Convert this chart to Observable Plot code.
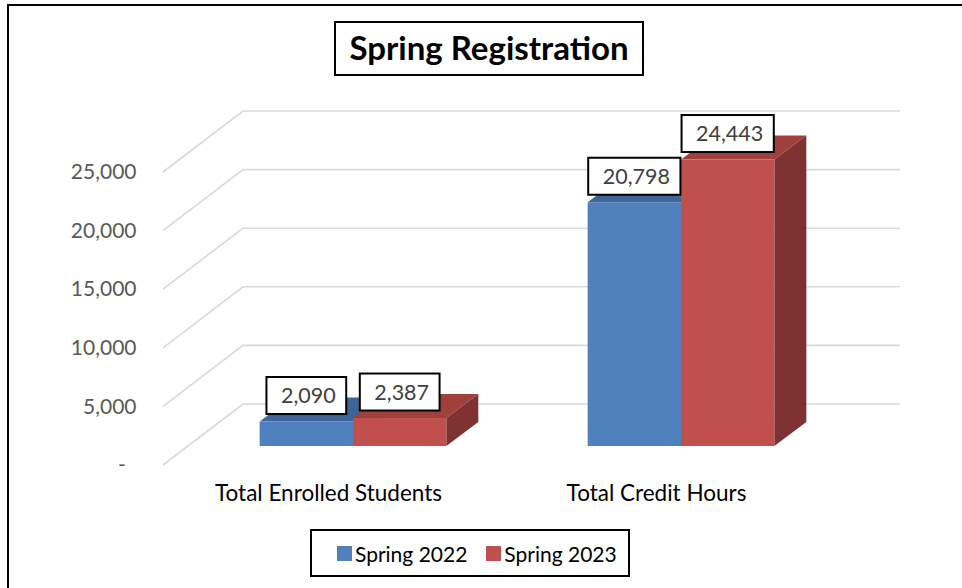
<!DOCTYPE html>
<html>
<head>
<meta charset="utf-8">
<script src="https://cdn.jsdelivr.net/npm/d3@7"></script>
<script src="https://cdn.jsdelivr.net/npm/@observablehq/plot@0.6"></script>
<style>
  html, body { margin: 0; padding: 0; background: #fff; overflow: hidden; }
  body { width: 962px; height: 588px; position: relative; font-family: Lato, "Open Sans", sans-serif; }
  #frame { position: absolute; left: 7px; top: 4px; width: 1100px; height: 800px; border: 2px solid #000; box-sizing: border-box; }
  #chart { position: absolute; left: 0; top: 0; }
  #title { position: absolute; left: 334px; top: 21px; width: 310px; height: 55px; box-sizing: border-box;
           border: 2px solid #000; background: #fff; font-weight: bold; font-size: 33px; color: #000;
           display: flex; align-items: center; justify-content: center; line-height: 1; padding-bottom: 2px; white-space: nowrap; }
  #legend { position: absolute; left: 310px; top: 529px; width: 320px; height: 48px; box-sizing: border-box;
            border: 2px solid #000; background: #fff; display: flex; align-items: center; padding-left: 25px;
            font-size: 21px; color: #000; white-space: nowrap; }
  .item { display: flex; align-items: center; margin-right: 19px; white-space: nowrap; flex: none; }
  .sw { width: 15px; height: 15px; margin-right: 3px; flex: none; }
</style>
</head>
<body>
<div id="frame"></div>
<div id="chart"></div>
<div id="title">Spring Registration</div>
<div id="legend"></div>
<script>
// ---- data ----
const categories = ["Total Enrolled Students", "Total Credit Hours"];
const seriesNames = ["Spring 2022", "Spring 2023"];
const spring2022 = [2090, 20798];
const spring2023 = [2387, 24443];
const yTicks = [0, 5000, 10000, 15000, 20000, 25000];
const yTickLabels = ["-\u00a0\u00a0", "5,000", "10,000", "15,000", "20,000", "25,000"];

// ---- styles ----
const frontColors = ["#4F81BD", "#C0504D"];
const topColors = ["#3D6696", "#A0403D"];
const sideColors = ["#2F5076", "#7E3231"];
const gridColor = "#D9D9D9";
const FONT = "Lato, 'Open Sans', sans-serif";

const rows = [];
categories.forEach((c, ci) => {
  rows.push({category: c, series: seriesNames[0], si: 0, value: spring2022[ci]});
  rows.push({category: c, series: seriesNames[1], si: 1, value: spring2023[ci]});
});
const fmt = d3.format(",");

// 3D geometry (pixels)
const WALL = [80, -61];     // front plane -> back wall
const BARPLANE = [25, -19]; // front plane -> bar front faces
const DEPTH = [32, -24];    // bar depth
const NS = "http://www.w3.org/2000/svg";

function el(doc, tag, attrs) {
  const e = doc.createElementNS(NS, tag);
  for (const k in attrs) e.setAttribute(k, attrs[k]);
  return e;
}

function gridRender(index, scales, values, dims, context) {
  const doc = context.document;
  const g = el(doc, "g", {});
  const x0 = dims.marginLeft, x1 = dims.width - dims.marginRight;
  for (const i of index) {
    const y = scales.y(yTicks[i]);
    g.appendChild(el(doc, "path", {
      d: `M${x0},${y}L${x0 + WALL[0]},${y + WALL[1]}H${x1 + WALL[0]}`,
      fill: "none", stroke: gridColor, "stroke-width": 1.6
    }));
  }
  return g;
}

function innerBand(scales, dims) {
  const bw = scales.x.bandwidth ? scales.x.bandwidth()
    : (dims.width - dims.marginLeft - dims.marginRight) / categories.length;
  return d3.scaleBand(seriesNames, [0, bw]).paddingInner(0).paddingOuter(0.757);
}

function barsRender(index, scales, values, dims, context) {
  const doc = context.document;
  const g = el(doc, "g", {});
  const inner = innerBand(scales, dims);
  for (const i of index) {
    const d = rows[i];
    const xa = scales.x(d.category) + inner(d.series) + BARPLANE[0];
    const xb = xa + inner.bandwidth();
    const yt = scales.y(d.value) + BARPLANE[1];
    const yb = scales.y(0) + BARPLANE[1];
    const [dx, dy] = DEPTH;
    g.appendChild(el(doc, "path", {d: `M${xa},${yt}L${xb},${yt}L${xb + dx},${yt + dy}L${xa + dx},${yt + dy}Z`, fill: topColors[d.si]}));
    g.appendChild(el(doc, "path", {d: `M${xb},${yt}L${xb + dx},${yt + dy}L${xb + dx},${yb + dy}L${xb},${yb}Z`, fill: sideColors[d.si]}));
    g.appendChild(el(doc, "rect", {x: xa, y: yt, width: xb - xa, height: yb - yt, fill: frontColors[d.si]}));
  }
  return g;
}

const measureCtx = document.createElement("canvas").getContext("2d");
measureCtx.font = "21.5px " + FONT;

function labelsRender(index, scales, values, dims, context) {
  const doc = context.document;
  const g = el(doc, "g", {});
  const inner = innerBand(scales, dims);
  for (const i of index) {
    const d = rows[i];
    const xa = scales.x(d.category) + inner(d.series) + BARPLANE[0];
    const cx = xa + inner.bandwidth() / 2;
    const cy = scales.y(d.value) + BARPLANE[1] - 26;
    const s = fmt(d.value);
    const w = measureCtx.measureText(s).width + 25;
    const h = 37;
    g.appendChild(el(doc, "rect", {x: cx - w / 2, y: cy - h / 2, width: w, height: h, fill: "#fff", stroke: "#000", "stroke-width": 2}));
    const t = el(doc, "text", {x: cx + 2, y: cy + 7.5, "text-anchor": "middle", fill: "#404040", "font-size": 21.5});
    t.textContent = s;
    g.appendChild(t);
  }
  return g;
}

const chart = Plot.plot({
  width: 962,
  height: 588,
  marginLeft: 163,
  marginRight: 142,
  marginTop: 172,
  marginBottom: 123,
  style: {background: "transparent", fontFamily: FONT, fontSize: "21px", overflow: "visible"},
  x: {domain: categories, padding: 0, axis: null},
  y: {domain: [0, 25000], axis: null},
  marks: [
    Plot.ruleY(yTicks, {y: d => d, render: gridRender}),
    Plot.barY(rows, {x: "category", y: "value", render: barsRender}),
    Plot.text(rows, {x: "category", y: "value", text: d => fmt(d.value), render: labelsRender}),
    Plot.text(yTicks, {y: d => d, text: (d, i) => yTickLabels[i], frameAnchor: "left", textAnchor: "end", dx: -27, fontSize: 21, fill: "#595959"}),
    Plot.text(categories, {x: d => d, frameAnchor: "bottom", dy: 35, fontSize: 22.5, fill: "#000"})
  ]
});
document.getElementById("chart").appendChild(chart);

// legend (HTML)
const legend = document.getElementById("legend");
seriesNames.forEach((s, i) => {
  const item = document.createElement("div");
  item.className = "item";
  const sw = document.createElement("div");
  sw.className = "sw";
  sw.style.background = frontColors[i];
  const lab = document.createElement("span");
  lab.textContent = s;
  item.appendChild(sw);
  item.appendChild(lab);
  legend.appendChild(item);
});
</script>
</body>
</html>
